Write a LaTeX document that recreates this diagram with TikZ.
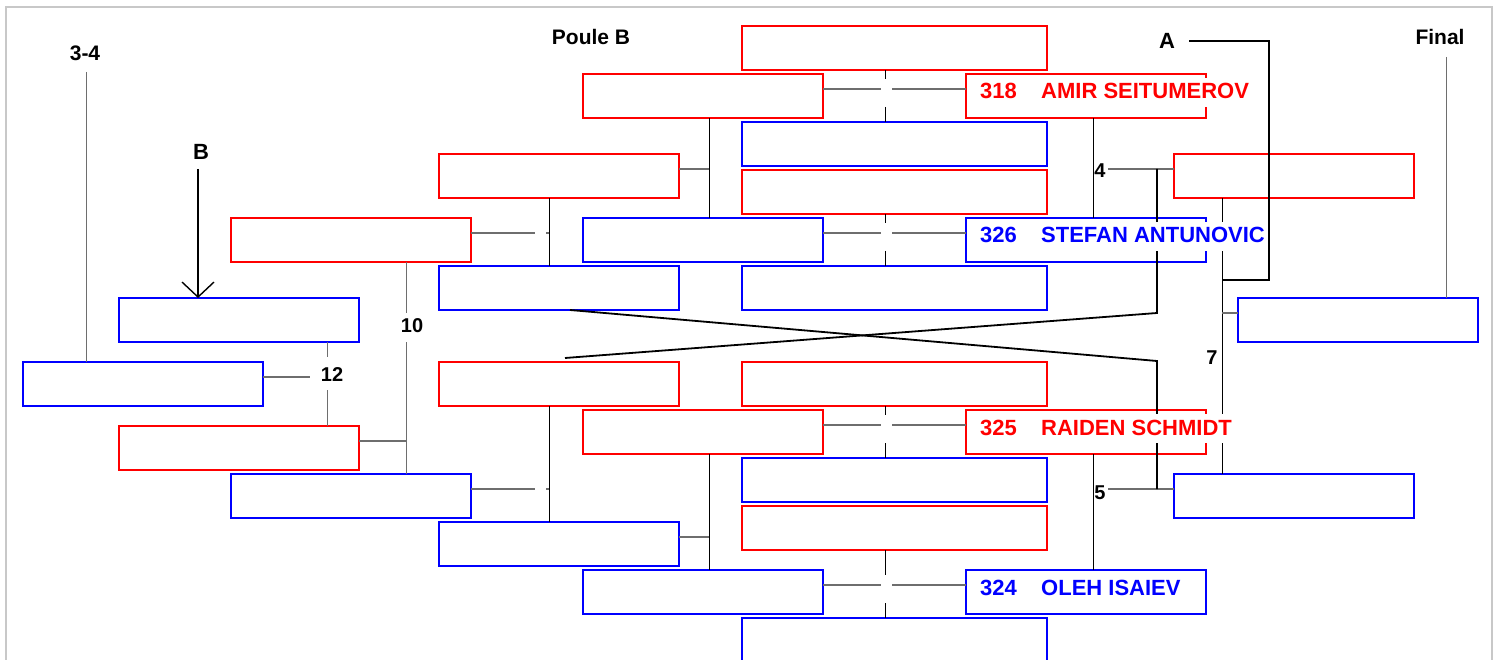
\documentclass[tikz,border=0pt]{standalone}
\usepackage{fontspec}
\setmainfont{Liberation Sans}
\usetikzlibrary{arrows.meta}
\definecolor{bred}{RGB}{255,0,0}
\definecolor{bblue}{RGB}{0,0,255}
\definecolor{cgray}{RGB}{110,110,110}
\definecolor{framegray}{RGB}{200,200,200}
\tikzset{
 boxbase/.style={line width=2pt, minimum width=240pt, minimum height=44pt, inner sep=0pt, outer sep=0pt},
 rbox/.style={boxbase, draw=bred},
 bbox/.style={boxbase, draw=bblue},
 wide/.style={minimum width=305pt},
 hl/.style={draw=cgray, line width=1.3pt},
 vl/.style={draw=black, line width=0.9pt},
 gl/.style={draw=cgray, line width=1pt},
 heavy/.style={draw=black, line width=1.8pt},
 ntext/.style={font=\fontsize{22}{24}\selectfont\bfseries, fill=white, inner sep=2pt, text height=19pt, text depth=6pt, anchor=base west},
 lab/.style={font=\fontsize{21}{24}\selectfont\bfseries, inner sep=0pt, anchor=base},
 biglab/.style={font=\fontsize{22}{24}\selectfont\bfseries, inner sep=0pt, anchor=base},
 num/.style={font=\fontsize{20}{24}\selectfont\bfseries, inner sep=0pt, anchor=base},
}
\begin{document}
\begin{tikzpicture}[x=1pt,y=-1pt]
\useasboundingbox (0,0) rectangle (1499,660);
\draw[framegray, line width=2pt] (6,7) rectangle (1492,700);
% boxes
\node[rbox,wide] (c48) at (894.5,48) {};
\node[bbox,wide] (c144) at (894.5,144) {};
\node[rbox,wide] (c192) at (894.5,192) {};
\node[bbox,wide] (c288) at (894.5,288) {};
\node[rbox,wide] (c384) at (894.5,384) {};
\node[bbox,wide] (c480) at (894.5,480) {};
\node[rbox,wide] (c528) at (894.5,528) {};
\node[bbox,wide] (c640) at (894.5,640) {};
\node[rbox] (p96) at (703,96) {};
\node[bbox] (p240) at (703,240) {};
\node[rbox] (p432) at (703,432) {};
\node[bbox] (p592) at (703,592) {};
\node[rbox] (n96) at (1086,96) {};
\node[bbox] (n240) at (1086,240) {};
\node[rbox] (n432) at (1086,432) {};
\node[bbox] (n592) at (1086,592) {};
\node[rbox] (q176) at (559,176) {};
\node[bbox] (q288) at (559,288) {};
\node[rbox] (q384) at (559,384) {};
\node[bbox] (q544) at (559,544) {};
\node[rbox] (r240) at (351,240) {};
\node[bbox] (r496) at (351,496) {};
\node[bbox] (s320) at (239,320) {};
\node[rbox] (s448) at (239,448) {};
\node[bbox] (t384) at (143,384) {};
\node[rbox] (u176) at (1294,176) {};
\node[bbox] (u496) at (1294,496) {};
\node[bbox] (v320) at (1358,320) {};
% labels
\node[lab] (l34) at (85,61) {3-4};
\node[lab] (lpb) at (591,45) {Poule B};
\node[lab] (lfin) at (1440,45) {Final};
\node[biglab] (lA) at (1167,49) {A};
\node[biglab] (lB) at (201,160) {B};
\node[num] (l4) at (1100,178) {4};
\node[num] (l5) at (1100,499) {5};
\node[num] (l7) at (1212,364) {7};
\node[num] (l10) at (412,332) {10};
\node[num] (l12) at (332,381) {12};
% central connectors
\draw[hl] (p96.east |- 0,89) -- (881,89);
\draw[hl] (892,89) -- (n96.west |- 0,89);
\draw[vl] (885,0 |- c48.south) -- (885,79);
\draw[vl] (885,107) -- (885,0 |- c144.north);
\draw[hl] (p240.east |- 0,233) -- (881,233);
\draw[hl] (892,233) -- (n240.west |- 0,233);
\draw[vl] (885,0 |- c192.south) -- (885,223);
\draw[vl] (885,251) -- (885,0 |- c288.north);
\draw[hl] (p432.east |- 0,425) -- (881,425);
\draw[hl] (892,425) -- (n432.west |- 0,425);
\draw[vl] (885,0 |- c384.south) -- (885,415);
\draw[vl] (885,443) -- (885,0 |- c480.north);
\draw[hl] (p592.east |- 0,585) -- (881,585);
\draw[hl] (892,585) -- (n592.west |- 0,585);
\draw[vl] (885,0 |- c528.south) -- (885,575);
\draw[vl] (885,603) -- (885,0 |- c640.north);
% x=709
\draw[vl] (709,0 |- p96.south) -- (709,0 |- p240.north);
\draw[hl] (q176.east |- 0,169) -- (709,169);
\draw[vl] (709,0 |- p432.south) -- (709,0 |- p592.north);
\draw[hl] (q544.east |- 0,537) -- (709,537);
% x=549
\draw[vl] (549,0 |- q176.south) -- (549,0 |- q288.north);
\draw[hl] (r240.east |- 0,233) -- (535,233);
\draw[hl] (546,233) -- (549,233);
\draw[vl] (549,0 |- q384.south) -- (549,0 |- q544.north);
\draw[hl] (r496.east |- 0,489) -- (535,489);
\draw[hl] (546,489) -- (549,489);
% x=406
\draw[gl] (406,0 |- r240.south) -- (406,313);
\draw[gl] (406,342) -- (406,0 |- r496.north);
\draw[hl] (s448.east |- 0,441) -- (406,441);
% x=327
\draw[gl] (327,0 |- s320.south) -- (327,357);
\draw[gl] (327,390) -- (327,0 |- s448.north);
\draw[hl] (t384.east |- 0,377) -- (310,377);
% 3-4, B, Final, A
\draw[gl] (86,72) -- (86,0 |- t384.north);
\draw[black, line width=1.4pt, -{Straight Barb[length=15pt,width=32pt]}] (198,169) -- (198,0 |- s320.north);
\draw[gl] (1446,57) -- (1446,0 |- v320.north);
\draw[heavy] (1189,41) -- (1269,41) -- (1269,280) -- (1222,280);
% right side
\draw[vl] (1093,0 |- n96.south) -- (1093,0 |- n240.north);
\draw[hl] (1108,169) -- (u176.west |- 0,169);
\draw[vl] (1093,0 |- n432.south) -- (1093,0 |- n592.north);
\draw[hl] (1108,489) -- (u496.west |- 0,489);
\draw[heavy] (1157,169) -- (1157,313) -- (565,358);
\draw[heavy] (570,0 |- q288.south) -- (1157,361) -- (1157,489);
\draw[vl] (1222,0 |- u176.south) -- (1222,0 |- u496.north);
\draw[hl] (1222,313) -- (v320.west |- 0,313);
% names
\node[ntext,text=bred] (n96t) at (978,99) {\makebox[61pt][l]{318}AMIR SEITUMEROV};
\node[ntext,text=bblue] (n240t) at (978,243) {\makebox[61pt][l]{326}STEFAN ANTUNOVIC};
\node[ntext,text=bred] (n432t) at (978,435) {\makebox[61pt][l]{325}RAIDEN SCHMIDT};
\node[ntext,text=bblue] (n592t) at (978,595) {\makebox[61pt][l]{324}OLEH ISAIEV};
\end{tikzpicture}
\end{document}
